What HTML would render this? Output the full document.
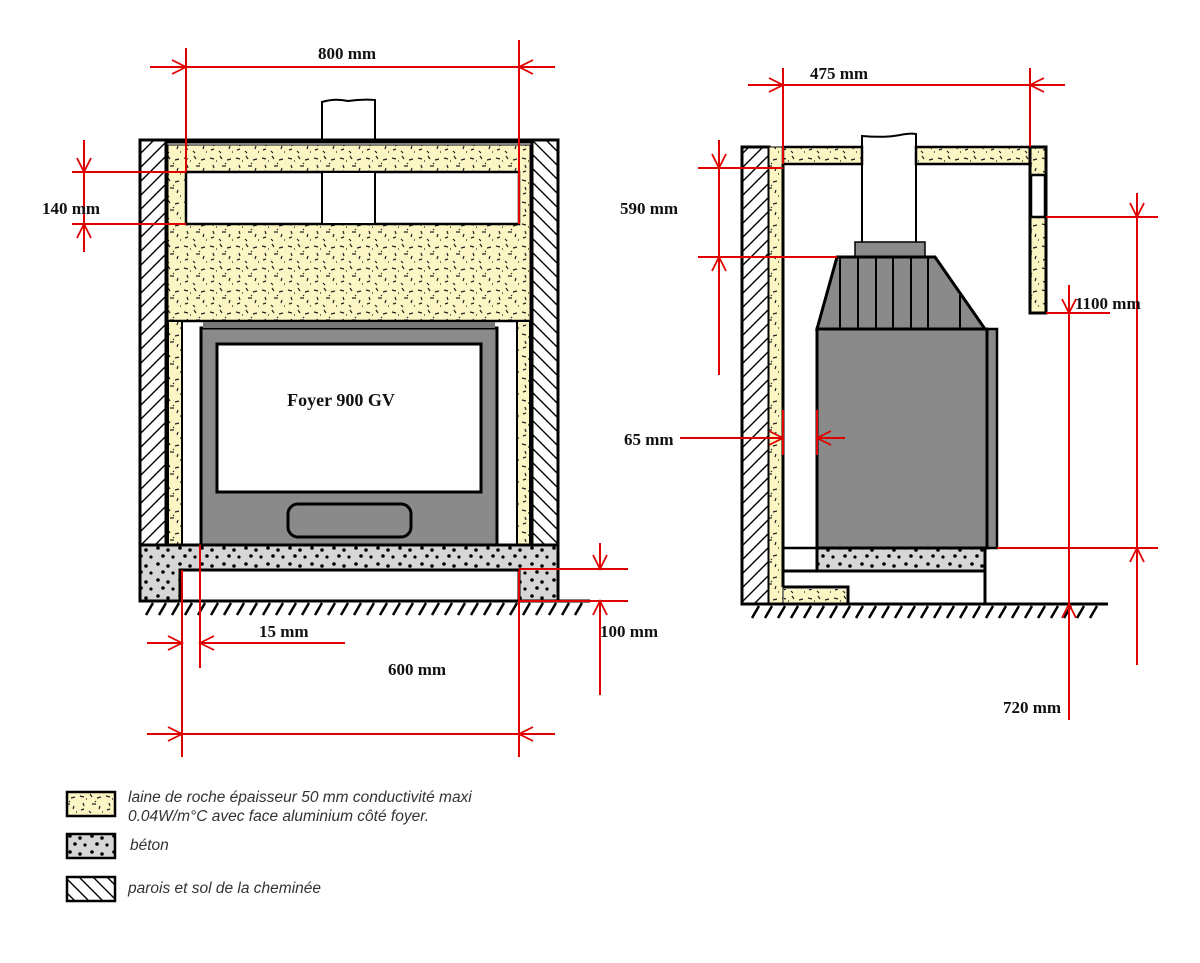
<!DOCTYPE html>
<html><head><meta charset="utf-8"><style>
html,body{margin:0;padding:0;background:#fff;}
svg{display:block}
.t{font-family:"Liberation Serif",serif;font-weight:bold;font-size:17px;fill:#111}
.l{font-family:"Liberation Sans",sans-serif;font-style:italic;font-size:15.5px;fill:#333}
</style></head><body>
<svg width="1200" height="963" viewBox="0 0 1200 963" xmlns="http://www.w3.org/2000/svg">
<defs>
<pattern id="hatch" width="14" height="14" patternUnits="userSpaceOnUse">
<rect width="14" height="14" fill="#fff"/>
<path d="M-3,17 L17,-3 M-10,10 L10,-10 M4,24 L24,4" stroke="#000" stroke-width="1.4"/>
</pattern>
<pattern id="hatch2" width="14" height="14" patternUnits="userSpaceOnUse">
<rect width="14" height="14" fill="#fff"/>
<path d="M-3,-3 L17,17 M-10,4 L10,24 M4,-10 L24,10" stroke="#000" stroke-width="1.4"/>
</pattern>
<pattern id="wool" width="26" height="22" patternUnits="userSpaceOnUse">
<rect width="26" height="22" fill="#fbf6c4"/>
<path d="M2,4 l4,1 M12,2 l2,3 M19,6 l4,-1 M5,11 l1,3 M14,12 l4,0 M22,14 l-1,3 M3,18 l3,-1 M11,19 l2,2 M17,9 l1,1 M8,7 l1,0 M24,20 l1,0" stroke="#222" stroke-width="1.2" fill="none"/>
</pattern>
<pattern id="conc" width="22" height="16" patternUnits="userSpaceOnUse">
<rect width="22" height="16" fill="#d6d6d6"/>
<circle cx="4" cy="4" r="1.8" fill="#000"/><circle cx="14" cy="6" r="1.8" fill="#000"/><circle cx="9" cy="12" r="1.8" fill="#000"/><circle cx="19" cy="13" r="1.6" fill="#000"/>
</pattern>
<marker id="ar" markerWidth="18" markerHeight="16" refX="15" refY="8" orient="auto" markerUnits="userSpaceOnUse">
<path d="M1,1 L15,8 L1,15 M1,8 L15,8" stroke="#e00000" stroke-width="1.8" fill="none"/>
</marker>
</defs>

<!-- ===== LEFT DIAGRAM ===== -->
<path d="M322,140 L322,102 Q335,98 348,101 Q362,99 375,100 L375,140" fill="#fff" stroke="#000" stroke-width="2"/>
<rect x="140" y="140" width="26" height="405" fill="url(#hatch)" stroke="#000" stroke-width="3"/>
<rect x="532" y="140" width="26" height="405" fill="url(#hatch2)" stroke="#000" stroke-width="3"/>
<line x1="166" y1="141" x2="532" y2="141" stroke="#000" stroke-width="5"/>
<rect x="168" y="145" width="362" height="176" fill="url(#wool)" stroke="#000" stroke-width="1"/>
<rect x="186" y="172" width="333" height="52" fill="#fff" stroke="#000" stroke-width="2.5"/>
<rect x="322" y="172" width="53" height="52" fill="#fff" stroke="#000" stroke-width="2"/>
<line x1="168" y1="321" x2="530" y2="321" stroke="#000" stroke-width="2.5"/>
<rect x="168" y="321" width="14" height="224" fill="url(#wool)" stroke="#000" stroke-width="2"/>
<rect x="517" y="321" width="13" height="224" fill="url(#wool)" stroke="#000" stroke-width="2"/>
<rect x="201" y="328" width="296" height="217" fill="#8a8a8a" stroke="#000" stroke-width="3"/>
<rect x="203" y="322" width="292" height="6" fill="#777"/>
<rect x="217" y="344" width="264" height="148" fill="#fff" stroke="#000" stroke-width="3"/>
<rect x="288" y="504" width="123" height="33" rx="10" fill="#8a8a8a" stroke="#000" stroke-width="3"/>
<text x="341" y="406" class="t" text-anchor="middle" style="font-size:18px">Foyer 900 GV</text>
<path d="M140,545 L558,545 L558,601 L519,601 L519,570 L180,570 L180,601 L140,601 Z" fill="url(#conc)" stroke="#000" stroke-width="3"/>
<line x1="140" y1="601" x2="590" y2="601" stroke="#000" stroke-width="3"/>
<path d="M146,615 l7,-12 M159,615 l7,-12 M172,615 l7,-12 M185,615 l7,-12 M198,615 l7,-12 M211,615 l7,-12 M224,615 l7,-12 M237,615 l7,-12 M250,615 l7,-12 M263,615 l7,-12 M276,615 l7,-12 M289,615 l7,-12 M302,615 l7,-12 M315,615 l7,-12 M328,615 l7,-12 M341,615 l7,-12 M354,615 l7,-12 M367,615 l7,-12 M380,615 l7,-12 M393,615 l7,-12 M406,615 l7,-12 M419,615 l7,-12 M432,615 l7,-12 M445,615 l7,-12 M458,615 l7,-12 M471,615 l7,-12 M484,615 l7,-12 M497,615 l7,-12 M510,615 l7,-12 M523,615 l7,-12 M536,615 l7,-12 M549,615 l7,-12 M562,615 l7,-12 M575,615 l7,-12" stroke="#000" stroke-width="2.5"/>

<g stroke="#e00000" stroke-width="2" fill="none">
<line x1="186" y1="48" x2="186" y2="172"/>
<line x1="519" y1="40" x2="519" y2="224"/>
<line x1="186" y1="67" x2="519" y2="67"/>
<line x1="150" y1="67" x2="186" y2="67" marker-end="url(#ar)"/>
<line x1="555" y1="67" x2="519" y2="67" marker-end="url(#ar)"/>
<line x1="72" y1="172" x2="186" y2="172"/>
<line x1="72" y1="224" x2="186" y2="224"/>
<line x1="84" y1="140" x2="84" y2="172" marker-end="url(#ar)"/>
<line x1="84" y1="252" x2="84" y2="224" marker-end="url(#ar)"/>
<line x1="84" y1="172" x2="84" y2="224"/>
<line x1="182" y1="570" x2="182" y2="757"/>
<line x1="200" y1="545" x2="200" y2="668"/>
<line x1="147" y1="643" x2="182" y2="643" marker-end="url(#ar)"/>
<line x1="345" y1="643" x2="200" y2="643" marker-end="url(#ar)"/>
<line x1="519" y1="570" x2="519" y2="757"/>
<line x1="182" y1="734" x2="519" y2="734"/>
<line x1="147" y1="734" x2="182" y2="734" marker-end="url(#ar)"/>
<line x1="555" y1="734" x2="519" y2="734" marker-end="url(#ar)"/>
<line x1="519" y1="569" x2="628" y2="569"/>
<line x1="519" y1="601" x2="628" y2="601"/>
<line x1="600" y1="543" x2="600" y2="569" marker-end="url(#ar)"/>
<line x1="600" y1="695" x2="600" y2="601" marker-end="url(#ar)"/>
</g>
<text x="347" y="59" class="t" text-anchor="middle">800 mm</text>
<text x="42" y="214" class="t">140 mm</text>
<text x="259" y="637" class="t">15 mm</text>
<text x="388" y="675" class="t">600 mm</text>
<text x="600" y="637" class="t">100 mm</text>

<!-- ===== RIGHT DIAGRAM ===== -->
<path d="M862,242 L862,136 Q885,138 900,135 Q910,133 916,134 L916,242" fill="#fff" stroke="#000" stroke-width="2"/>
<rect x="742" y="147" width="27" height="457" fill="url(#hatch)" stroke="#000" stroke-width="3"/>
<rect x="769" y="147" width="14" height="457" fill="url(#wool)" stroke="#000" stroke-width="1"/>
<rect x="783" y="147" width="79" height="17" fill="url(#wool)" stroke="#000" stroke-width="2.5"/>
<rect x="916" y="147" width="114" height="17" fill="url(#wool)" stroke="#000" stroke-width="2.5"/>
<rect x="1030" y="147" width="16" height="166" fill="url(#wool)" stroke="#000" stroke-width="3"/>
<rect x="1031" y="175" width="14" height="42" fill="#fff" stroke="#000" stroke-width="2.5"/>
<line x1="783" y1="164" x2="783" y2="587" stroke="#000" stroke-width="3"/>
<path d="M783,587 L848,587 L848,604" fill="none" stroke="#000" stroke-width="3"/>
<rect x="784" y="589" width="62" height="14" fill="url(#wool)"/>
<rect x="855" y="242" width="70" height="15" fill="#8a8a8a" stroke="#000" stroke-width="1.5"/>
<path d="M837,257 L935,257 L985,329 L817,329 Z" fill="#8a8a8a" stroke="#000" stroke-width="3"/>
<path d="M840,258 V329 M858,258 V329 M876,258 V329 M893,258 V329 M911,258 V329 M928,258 V329 M960,295 V329" stroke="#000" stroke-width="2"/>
<rect x="987" y="329" width="10" height="219" fill="#8a8a8a" stroke="#000" stroke-width="2.5"/>
<rect x="817" y="329" width="170" height="219" fill="#8a8a8a" stroke="#000" stroke-width="3"/>
<rect x="817" y="548" width="168" height="23" fill="url(#conc)" stroke="#000" stroke-width="3"/>
<line x1="783" y1="548" x2="817" y2="548" stroke="#000" stroke-width="2.5"/>
<line x1="783" y1="571" x2="985" y2="571" stroke="#000" stroke-width="3"/>
<line x1="985" y1="548" x2="985" y2="604" stroke="#000" stroke-width="3"/>
<line x1="742" y1="604" x2="1108" y2="604" stroke="#000" stroke-width="3"/>
<path d="M752,618 l7,-12 M765,618 l7,-12 M778,618 l7,-12 M791,618 l7,-12 M804,618 l7,-12 M817,618 l7,-12 M830,618 l7,-12 M843,618 l7,-12 M856,618 l7,-12 M869,618 l7,-12 M882,618 l7,-12 M895,618 l7,-12 M908,618 l7,-12 M921,618 l7,-12 M934,618 l7,-12 M947,618 l7,-12 M960,618 l7,-12 M973,618 l7,-12 M986,618 l7,-12 M999,618 l7,-12 M1012,618 l7,-12 M1025,618 l7,-12 M1038,618 l7,-12 M1051,618 l7,-12 M1064,618 l7,-12 M1077,618 l7,-12 M1090,618 l7,-12" stroke="#000" stroke-width="2.5"/>

<g stroke="#e00000" stroke-width="2" fill="none">
<line x1="783" y1="68" x2="783" y2="164"/>
<line x1="1030" y1="68" x2="1030" y2="147"/>
<line x1="783" y1="85" x2="1030" y2="85"/>
<line x1="748" y1="85" x2="783" y2="85" marker-end="url(#ar)"/>
<line x1="1065" y1="85" x2="1030" y2="85" marker-end="url(#ar)"/>
<line x1="698" y1="168" x2="783" y2="168"/>
<line x1="698" y1="257" x2="837" y2="257"/>
<line x1="719" y1="140" x2="719" y2="168" marker-end="url(#ar)"/>
<line x1="719" y1="375" x2="719" y2="257" marker-end="url(#ar)"/>
<line x1="719" y1="168" x2="719" y2="257"/>
<line x1="783" y1="410" x2="783" y2="455"/>
<line x1="817" y1="410" x2="817" y2="455"/>
<line x1="680" y1="438" x2="783" y2="438" marker-end="url(#ar)"/>
<line x1="845" y1="438" x2="817" y2="438" marker-end="url(#ar)"/>
<line x1="1046" y1="217" x2="1158" y2="217"/>
<line x1="997" y1="548" x2="1158" y2="548"/>
<line x1="1137" y1="193" x2="1137" y2="217" marker-end="url(#ar)"/>
<line x1="1137" y1="665" x2="1137" y2="548" marker-end="url(#ar)"/>
<line x1="1137" y1="217" x2="1137" y2="548"/>
<line x1="1046" y1="313" x2="1110" y2="313"/>
<line x1="1069" y1="285" x2="1069" y2="313" marker-end="url(#ar)"/>
<line x1="1069" y1="720" x2="1069" y2="604" marker-end="url(#ar)"/>
<line x1="1069" y1="313" x2="1069" y2="604"/>
</g>
<text x="810" y="79" class="t">475 mm</text>
<text x="620" y="214" class="t">590 mm</text>
<text x="624" y="445" class="t">65 mm</text>
<text x="1075" y="309" class="t">1100 mm</text>
<text x="1003" y="713" class="t">720 mm</text>

<!-- ===== LEGEND ===== -->
<rect x="67" y="792" width="48" height="24" fill="url(#wool)" stroke="#000" stroke-width="2.5"/>
<rect x="67" y="834" width="48" height="24" fill="url(#conc)" stroke="#000" stroke-width="2.5"/>
<rect x="67" y="877" width="48" height="24" fill="url(#hatch2)" stroke="#000" stroke-width="2.5"/>
<text x="128" y="802" class="l">laine de roche épaisseur 50 mm conductivité maxi</text>
<text x="128" y="821" class="l">0.04W/m°C avec face aluminium côté foyer.</text>
<text x="130" y="850" class="l">béton</text>
<text x="128" y="893" class="l">parois et sol de la cheminée</text>
</svg>
</body></html>
